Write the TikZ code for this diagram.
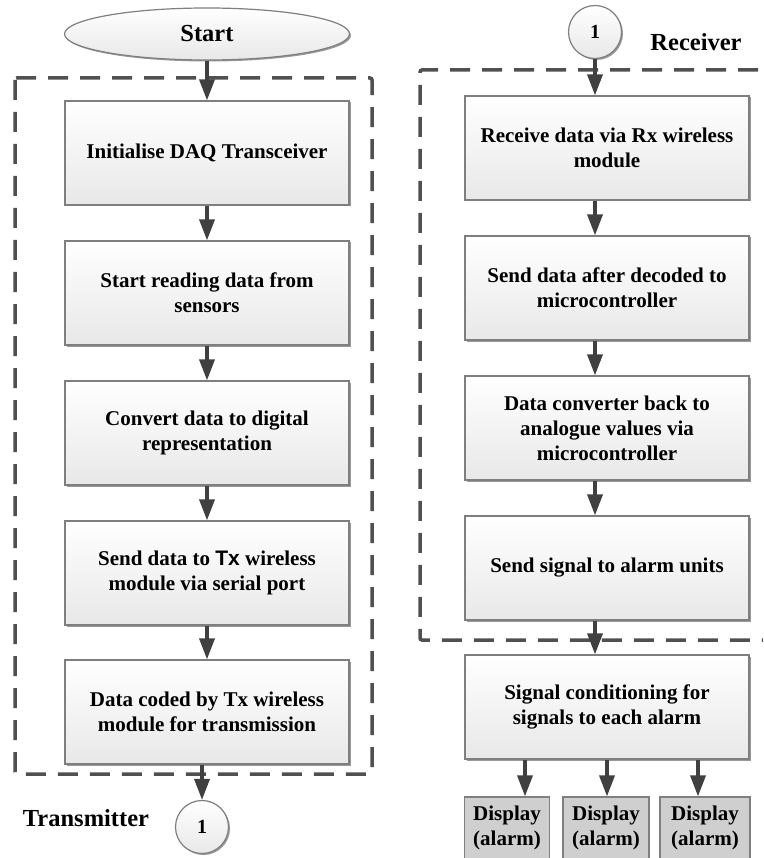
\documentclass[tikz,border=0pt]{standalone}
\usepackage{fontspec}
\setmainfont{Liberation Serif}
\setsansfont{Liberation Sans}
\usetikzlibrary{arrows.meta,shapes.geometric,shadows}
\definecolor{linegray}{HTML}{404040}
\definecolor{boxline}{HTML}{7F7F7F}
\definecolor{dashgray}{HTML}{505050}
\definecolor{dispfill}{HTML}{CFCFCF}
\tikzset{
  stepbox/.style={draw=boxline, line width=1.2pt, top color=white, bottom color=black!9,
    minimum width=284pt, minimum height=104pt, align=center,
    font=\fontsize{21}{25}\selectfont\bfseries,
    drop shadow={shadow xshift=1.5pt, shadow yshift=-1.5pt, fill=black!40, opacity=1}},
  dispbox/.style={draw=boxline, line width=1.2pt, fill=dispfill, minimum height=62pt,
    inner sep=1pt, align=center, font=\fontsize{21}{25}\selectfont\bfseries},
  startshape/.style={ellipse, draw=boxline, line width=1.2pt, top color=white, bottom color=black!9,
    minimum width=285pt, minimum height=52pt, font=\fontsize{24.5}{29}\selectfont\bfseries,
    drop shadow={shadow xshift=1.5pt, shadow yshift=-1.5pt, fill=black!40, opacity=1}},
  joint/.style={circle, draw=boxline, line width=1.2pt, top color=white, bottom color=black!9,
    minimum size=53pt, inner sep=0pt, font=\fontsize{20}{24}\selectfont\bfseries,
    drop shadow={shadow xshift=1.5pt, shadow yshift=-1.5pt, fill=black!40, opacity=1}},
  title/.style={font=\fontsize{24.5}{29}\selectfont\bfseries},
  groupline/.style={draw=dashgray, line width=3.5pt, dash pattern=on 20pt off 12pt, rounded corners=2pt},
  flow/.style={draw=linegray, line width=3.5pt, -{Triangle[length=21pt,width=15pt]}}
}
\begin{document}
\begin{tikzpicture}[x=1pt,y=-1pt]
      \useasboundingbox (0,0) rectangle (763,858);
      \clip (0,0) rectangle (763,858);
      %groups
      \draw[groupline] (15,78) rectangle (372,774);
      \draw[groupline] (790,70) -- (420,70) -- (420,640) -- (790,640);
      %transmitter
      \node[startshape] (start) at (207,34) {Start};
      \node[stepbox] (t1) at (207,153) {Initialise DAQ Transceiver};
      \node[stepbox] (t2) at (207,293) {Start reading data from\\sensors};
      \node[stepbox] (t3) at (207,433) {Convert data to digital\\representation};
      \node[stepbox] (t4) at (207,573) {Send data to {\sffamily Tx} wireless\\module via serial port};
      \node[stepbox] (t5) at (207,712) {Data coded by Tx wireless\\module for transmission};
      \node[joint] (c1) at (202,827) {1};
      \node[title] (tx) at (86,818) {Transmitter};
      %receiver
      \node[joint] (c2) at (595,32) {1};
      \node[title] (rx) at (696,42) {Receiver};
      \node[stepbox] (r1) at (607,148) {Receive data via Rx wireless\\module};
      \node[stepbox] (r2) at (607,288) {Send data after decoded to\\microcontroller};
      \node[stepbox] (r3) at (607,428) {Data converter back to\\analogue values via\\microcontroller};
      \node[stepbox] (r4) at (607,568) {Send signal to alarm units};
      \node[stepbox] (r5) at (607,707) {Signal conditioning for\\signals to each alarm};
      \node[dispbox, minimum width=85pt] (d1) at (507,828) {Display\\(alarm)};
      \node[dispbox, minimum width=86pt] (d2) at (606,828) {Display\\(alarm)};
      \node[dispbox, minimum width=90pt] (d3) at (705,828) {Display\\(alarm)};
      %arrows
      \draw[flow] (start) -- (t1);
      \foreach \a/\b in {t1/t2,t2/t3,t3/t4,t4/t5}
        \draw[flow] (\a) -- (\b);
      \draw[flow] (t5.south -| c1.north) -- (c1);
      \draw[flow] (c2) -- (c2 |- r1.north);
      \foreach \a/\b in {r1/r2,r2/r3,r3/r4,r4/r5}
        \draw[flow] (\a.south -| c2) -- (\b.north -| c2);
      \coordinate (a1) at ([xshift=18pt]d1.north);
      \coordinate (a2) at ([xshift=1pt]d2.north);
      \coordinate (a3) at ([xshift=-7pt]d3.north);
      \foreach \p in {a1,a2,a3}
        \draw[flow] (\p |- r5.south) -- (\p);
\end{tikzpicture}
\end{document}
